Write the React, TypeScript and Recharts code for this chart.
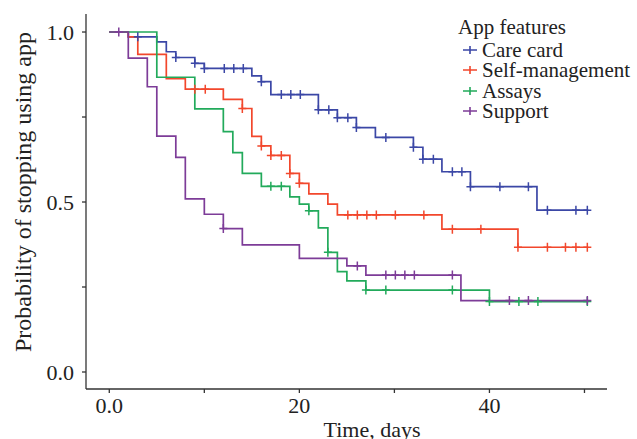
import React from 'react';
import { ComposedChart, Line, XAxis, YAxis, Legend } from 'recharts';

// Kaplan-Meier steps: time of each drop and the survival value from that time on
const careTimes = [0, 2, 5, 6, 7, 9, 10, 15, 16, 17, 22, 24, 26, 28, 32, 33, 35, 38, 45];
const careSurv = [1.0, 0.986, 0.971, 0.942, 0.925, 0.908, 0.893, 0.871, 0.854, 0.816, 0.771, 0.748, 0.719, 0.69, 0.661, 0.626, 0.589, 0.545, 0.476];
const careCensor = [3, 7, 9, 10, 12.1, 13.1, 14.1, 16, 18.1, 19.1, 20.1, 22, 23.1, 24, 25.1, 26, 29.1, 32, 33, 34.1, 36.1, 37.1, 38, 41.1, 44.1, 46.1, 49.1, 50.3];

const selfTimes = [0, 2, 3, 6, 8, 12, 14, 15, 16, 17, 19, 20, 21, 23, 24, 35, 43];
const selfSurv = [1.0, 0.986, 0.934, 0.863, 0.832, 0.802, 0.775, 0.693, 0.665, 0.637, 0.584, 0.555, 0.524, 0.494, 0.462, 0.42, 0.367];
const selfCensor = [9, 10.1, 14, 16, 17, 18.1, 19, 20, 25.1, 26.1, 27.1, 28.1, 30.1, 33.1, 36.1, 39.1, 43, 46.1, 48, 49.1, 50.3];

const assayTimes = [0, 5, 9, 12, 13, 14, 16, 19, 20, 21, 22, 23, 24, 25, 27, 40];
const assaySurv = [1.0, 0.867, 0.774, 0.707, 0.645, 0.584, 0.546, 0.515, 0.494, 0.474, 0.424, 0.352, 0.295, 0.268, 0.241, 0.207];
const assayCensor = [17, 18.1, 21, 23, 27, 29.1, 36.1, 40, 43.1, 45.1, 50.3];

const supportTimes = [0, 2, 4, 5, 7, 8, 10, 12, 14, 20, 25, 27, 37];
const supportSurv = [1.0, 0.923, 0.839, 0.694, 0.631, 0.509, 0.464, 0.422, 0.374, 0.334, 0.312, 0.285, 0.21];
const supportCensor = [1, 12, 26.1, 29.1, 30.1, 31.1, 32.1, 36.1, 42.1, 44.1, 50.3];

const endTime = 50.4;

const xTicks = [0, 10, 20, 30, 40, 50];
const xTickLabels = ['0.0', '', '20', '', '40', ''];
const yTicks = [0, 0.25, 0.5, 0.75, 1];
const yTickLabels = ['0.0', '', '0.5', '', '1.0'];

const FONT = '"Liberation Serif", "Times New Roman", serif';

const buildCurve = (times: number[], surv: number[], censor: number[]) => {
  const valueAt = (t: number) => {
    let v = surv[0];
    times.forEach((s, i) => {
      if (s <= t) v = surv[i];
    });
    return v;
  };
  const pts = times.map((t, i) => ({ t, p: surv[i], c: false }));
  pts.push({ t: endTime, p: surv[surv.length - 1], c: false });
  censor.forEach((t) => pts.push({ t, p: valueAt(t), c: true }));
  return pts.sort((a, b) => a.t - b.t);
};

const series = [
  { name: 'Care card', color: '#3b47a6', data: buildCurve(careTimes, careSurv, careCensor) },
  { name: 'Self-management', color: '#f2472c', data: buildCurve(selfTimes, selfSurv, selfCensor) },
  { name: 'Assays', color: '#22aa5b', data: buildCurve(assayTimes, assaySurv, assayCensor) },
  { name: 'Support', color: '#7d3c98', data: buildCurve(supportTimes, supportSurv, supportCensor) },
];

const censorDot = (color: string) => (props: any) => {
  const { cx, cy, payload, index } = props;
  if (!payload || !payload.c) return <g key={index} />;
  return (
    <path
      key={index}
      d={`M${cx - 4},${cy}H${cx + 4}M${cx},${cy - 4.5}V${cy + 4.5}`}
      stroke={color}
      strokeWidth={1.5}
      fill="none"
    />
  );
};

const LegendBox = () => (
  <div style={{ fontFamily: FONT, fontSize: 21, color: '#222' }}>
    <div style={{ lineHeight: '20px', marginBottom: 3 }}>App features</div>
    {series.map((s) => (
      <div key={s.name} style={{ display: 'flex', alignItems: 'center', lineHeight: '20.3px', height: 20.3 }}>
        <svg width={16} height={10} style={{ marginLeft: 4, marginRight: 4 }}>
          <path d="M1,5H15M8,1V9" stroke={s.color} strokeWidth={1.6} />
        </svg>
        <span>{s.name}</span>
      </div>
    ))}
  </div>
);

const tickStyle = { fill: '#222', fontSize: 22, fontFamily: FONT };
const axisStroke = { stroke: '#333', strokeWidth: 1.3 };

export default function App() {
  return (
    <div style={{ position: 'absolute', left: 0, top: 0, width: 637, height: 439, background: '#fff' }}>
      <ComposedChart width={637} height={439} margin={{ top: 14, right: 30, bottom: 0, left: 0 }}>
        <XAxis
          type="number"
          dataKey="t"
          domain={[-2.45, 52.37]}
          allowDataOverflow
          ticks={xTicks}
          tickFormatter={(v: number) => xTickLabels[xTicks.indexOf(v)] ?? ''}
          tick={tickStyle}
          tickSize={4}
          tickMargin={4}
          height={50}
          axisLine={axisStroke}
          tickLine={axisStroke}
          label={{
            content: () => (
              <text x={372} y={437} textAnchor="middle" fontSize={22} fontFamily={FONT} fill="#222">
                Time, days
              </text>
            ),
          }}
        />
        <YAxis
          type="number"
          dataKey="p"
          domain={[-0.05, 1.053]}
          allowDataOverflow
          ticks={yTicks}
          tickFormatter={(v: number) => yTickLabels[yTicks.indexOf(v)] ?? ''}
          tick={tickStyle}
          tickSize={4}
          tickMargin={8}
          width={86}
          axisLine={axisStroke}
          tickLine={axisStroke}
          label={{
            content: () => (
              <text
                x={31}
                y={192}
                transform="rotate(-90 31 192)"
                textAnchor="middle"
                fontSize={24}
                fontFamily={FONT}
                fill="#222"
              >
                Probability of stopping using app
              </text>
            ),
          }}
        />
        <Legend
          layout="horizontal"
          verticalAlign="middle"
          content={() => <LegendBox />}
          wrapperStyle={{ position: 'absolute', left: 458, top: 17, width: 180 }}
        />
        {series.map((s) => (
          <Line
            key={s.name}
            data={s.data}
            dataKey="p"
            name={s.name}
            type="stepAfter"
            stroke={s.color}
            strokeWidth={1.7}
            dot={censorDot(s.color)}
            activeDot={false}
            isAnimationActive={false}
          />
        ))}
      </ComposedChart>
    </div>
  );
}
